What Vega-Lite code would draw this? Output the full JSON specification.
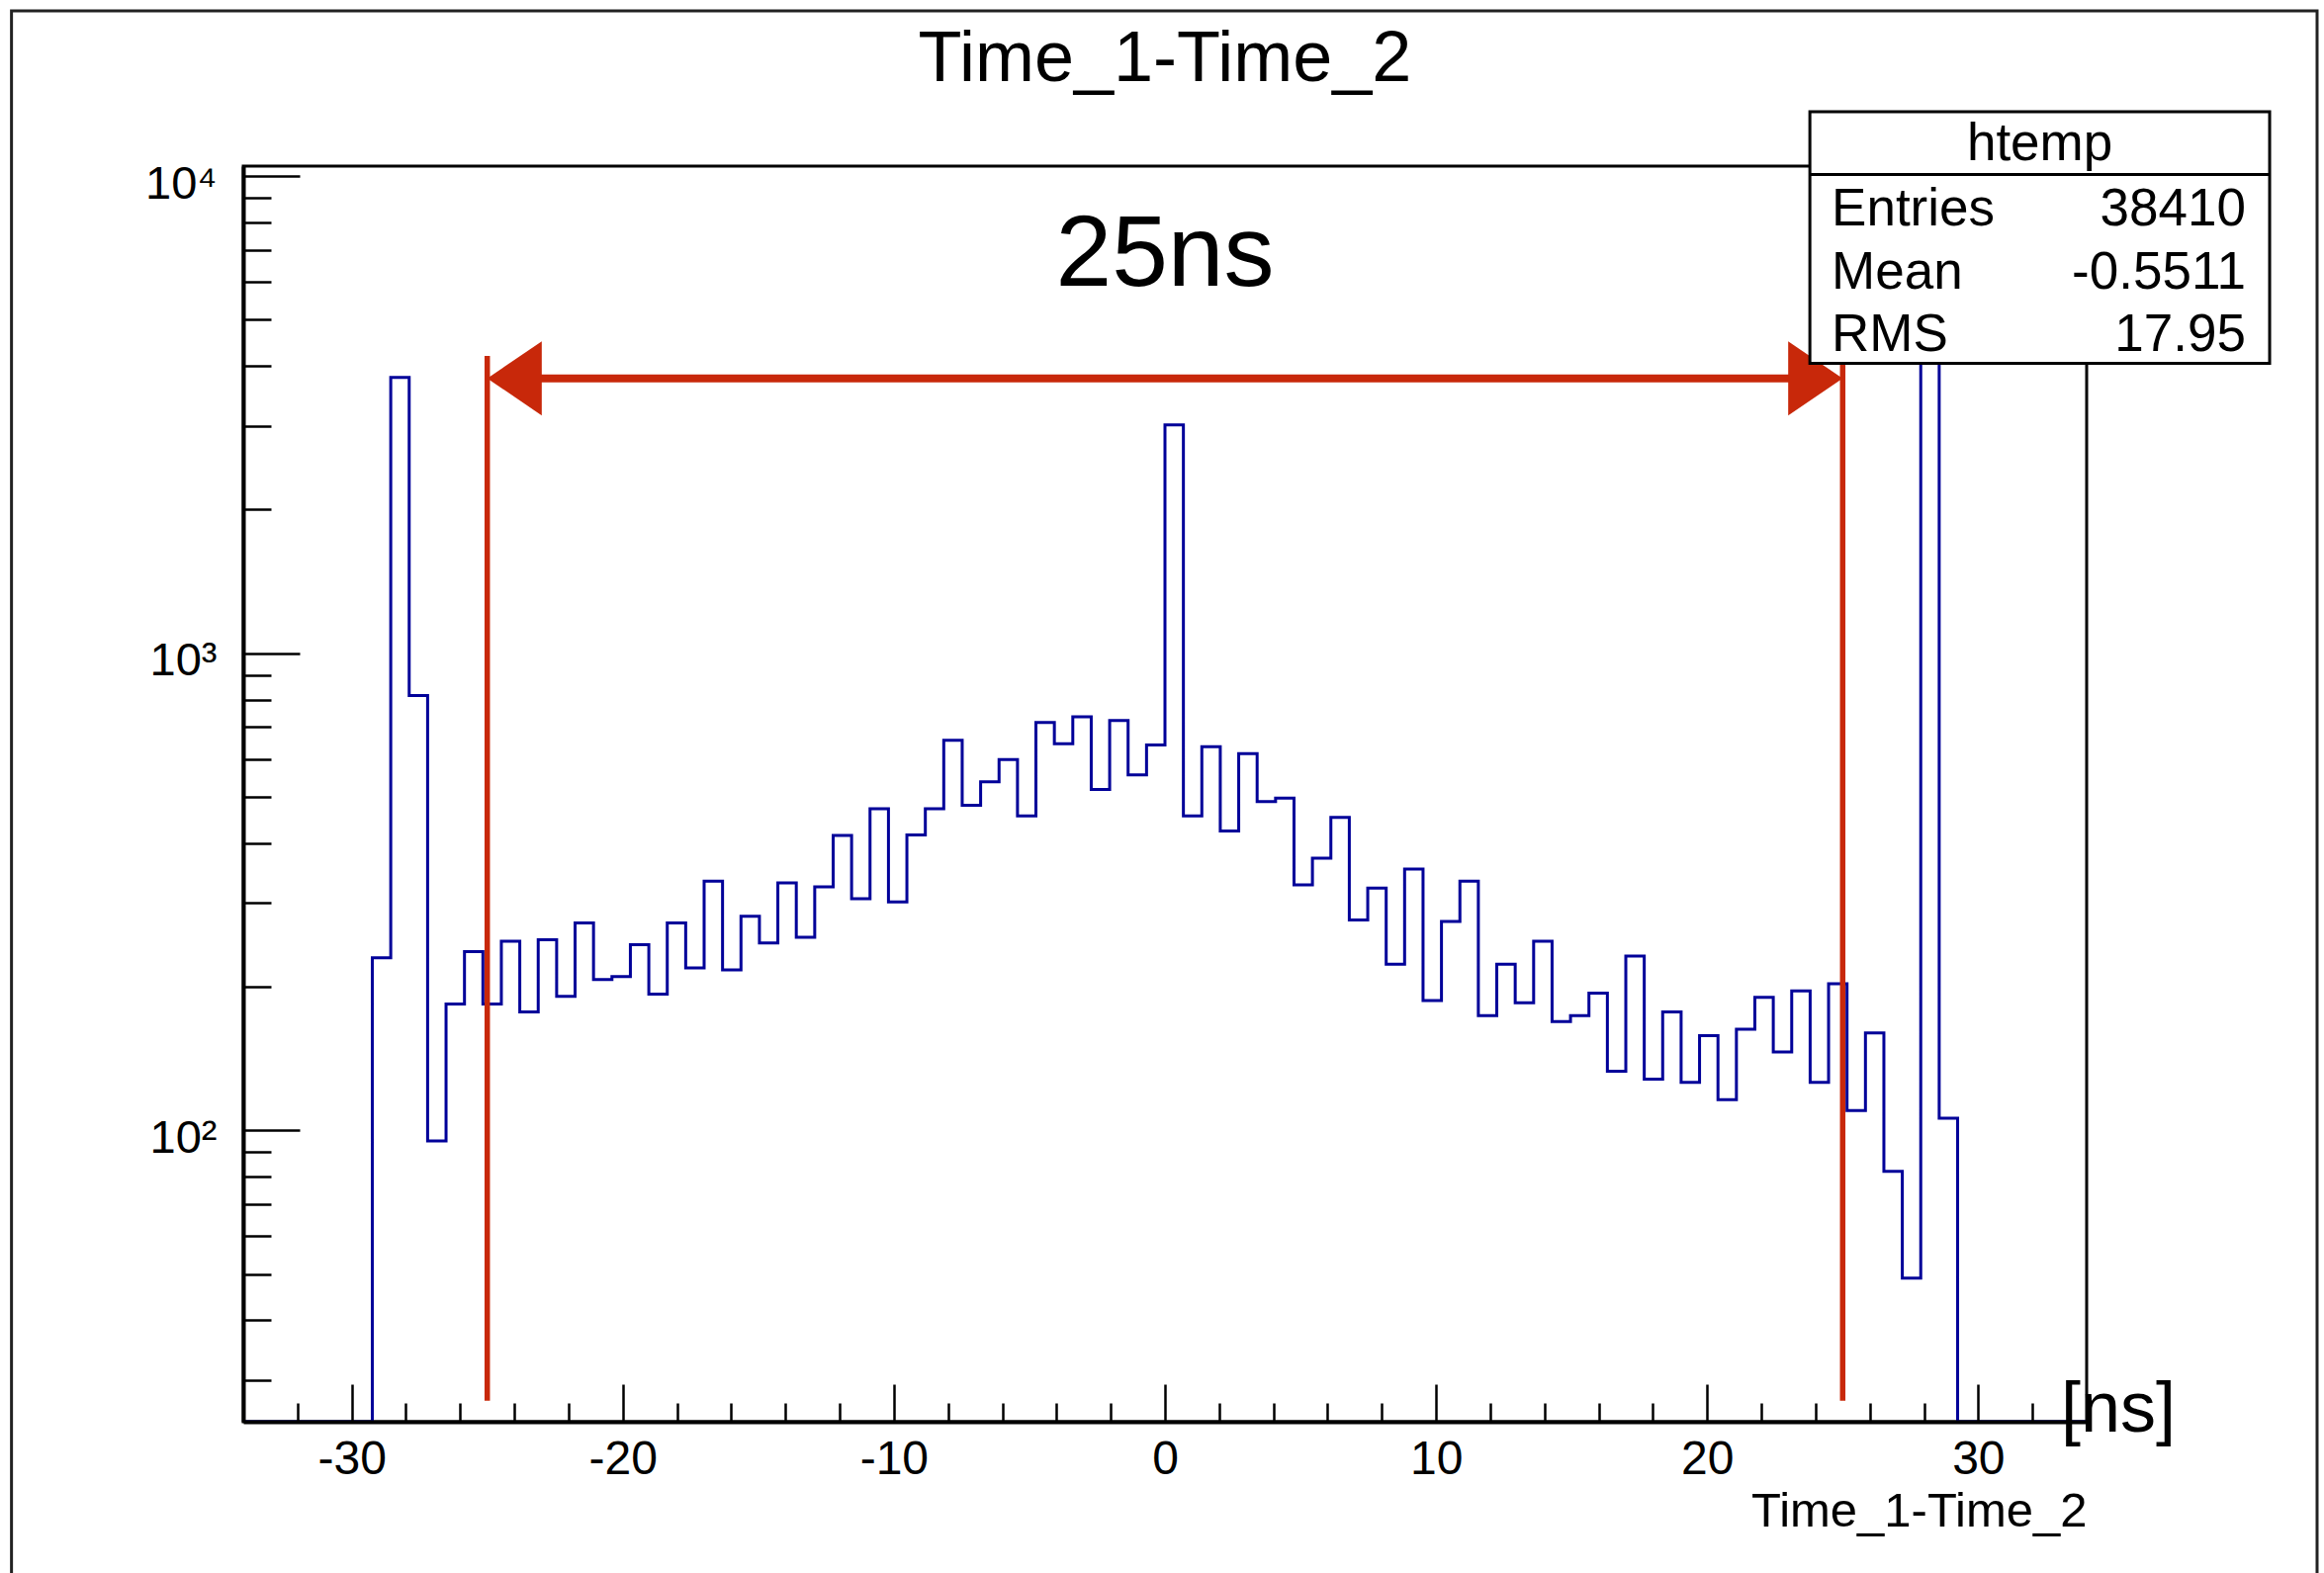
{
  "$schema": "https://vega.github.io/schema/vega-lite/v6.json",
  "width": 1864,
  "height": 1270,
  "autosize": {"type": "none"},
  "padding": {"left": 246, "top": 168, "right": 240, "bottom": 153},
  "background": "white",
  "title": {"text": "Time_1-Time_2", "fontSize": 72, "font": "Liberation Sans", "fontWeight": "normal", "color": "black", "anchor": "middle", "frame": "group", "baseline": "alphabetic", "offset": -144.5},
  "config": {
    "view": {"stroke": "black", "strokeWidth": 3},
    "font": "Liberation Sans",
    "axis": {"grid": false, "domainColor": "black", "domainWidth": 4, "tickColor": "black", "tickWidth": 2.5, "labelColor": "black", "labelFont": "Liberation Sans", "titleFont": "Liberation Sans", "titleColor": "black", "titleFontWeight": "normal", "zindex": 1},
    "text": {"font": "Liberation Sans", "color": "black"}
  },
  "datasets": {
    "hist": [
      {"t": -34, "n": 0}, {"t": -33.32, "n": 0}, {"t": -32.64, "n": 0}, {"t": -31.96, "n": 0}, {"t": -31.28, "n": 0},
      {"t": -30.6, "n": 0}, {"t": -29.92, "n": 0}, {"t": -29.24, "n": 230}, {"t": -28.56, "n": 3785}, {"t": -27.88, "n": 815},
      {"t": -27.2, "n": 95}, {"t": -26.52, "n": 184}, {"t": -25.84, "n": 237}, {"t": -25.16, "n": 184}, {"t": -24.48, "n": 249},
      {"t": -23.8, "n": 177}, {"t": -23.12, "n": 251}, {"t": -22.44, "n": 191}, {"t": -21.76, "n": 272}, {"t": -21.08, "n": 207},
      {"t": -20.4, "n": 210}, {"t": -19.72, "n": 245}, {"t": -19.04, "n": 193}, {"t": -18.36, "n": 272}, {"t": -17.68, "n": 219},
      {"t": -17, "n": 333}, {"t": -16.32, "n": 217}, {"t": -15.64, "n": 281}, {"t": -14.96, "n": 247}, {"t": -14.28, "n": 330},
      {"t": -13.6, "n": 254}, {"t": -12.92, "n": 324}, {"t": -12.24, "n": 415}, {"t": -11.56, "n": 306}, {"t": -10.88, "n": 472},
      {"t": -10.2, "n": 301}, {"t": -9.52, "n": 416}, {"t": -8.84, "n": 472}, {"t": -8.16, "n": 657}, {"t": -7.48, "n": 480},
      {"t": -6.8, "n": 538}, {"t": -6.12, "n": 599}, {"t": -5.44, "n": 456}, {"t": -4.76, "n": 716}, {"t": -4.08, "n": 646},
      {"t": -3.4, "n": 736}, {"t": -2.72, "n": 518}, {"t": -2.04, "n": 723}, {"t": -1.36, "n": 556}, {"t": -0.68, "n": 642},
      {"t": 0, "n": 3010}, {"t": 0.68, "n": 456}, {"t": 1.36, "n": 637}, {"t": 2.04, "n": 424}, {"t": 2.72, "n": 616},
      {"t": 3.4, "n": 489}, {"t": 4.08, "n": 497}, {"t": 4.76, "n": 327}, {"t": 5.44, "n": 372}, {"t": 6.12, "n": 453},
      {"t": 6.8, "n": 276}, {"t": 7.48, "n": 322}, {"t": 8.16, "n": 223}, {"t": 8.84, "n": 353}, {"t": 9.52, "n": 187},
      {"t": 10.2, "n": 274}, {"t": 10.88, "n": 333}, {"t": 11.56, "n": 174}, {"t": 12.24, "n": 223}, {"t": 12.92, "n": 185},
      {"t": 13.6, "n": 249}, {"t": 14.28, "n": 169}, {"t": 14.96, "n": 174}, {"t": 15.64, "n": 194}, {"t": 16.32, "n": 133},
      {"t": 17, "n": 232}, {"t": 17.68, "n": 128}, {"t": 18.36, "n": 177}, {"t": 19.04, "n": 126}, {"t": 19.72, "n": 158},
      {"t": 20.4, "n": 116}, {"t": 21.08, "n": 163}, {"t": 21.76, "n": 190}, {"t": 22.44, "n": 146}, {"t": 23.12, "n": 196},
      {"t": 23.8, "n": 126}, {"t": 24.48, "n": 203}, {"t": 25.16, "n": 110}, {"t": 25.84, "n": 160}, {"t": 26.52, "n": 82},
      {"t": 27.2, "n": 49}, {"t": 27.88, "n": 4800}, {"t": 28.56, "n": 106}, {"t": 29.24, "n": 0}, {"t": 29.92, "n": 0},
      {"t": 30.6, "n": 0}, {"t": 31.28, "n": 0}, {"t": 31.96, "n": 0}, {"t": 32.64, "n": 0}, {"t": 33.32, "n": 0},
      {"t": 34, "n": 0}
    ],
    "window": [{"edge": -25}, {"edge": 25}],
    "note": [{"label": "25ns"}],
    "unit": [{"label": "[ns]"}],
    "box": [{"name": "htemp"}],
    "stats": [{"stat": "Entries", "value": "38410"}, {"stat": "Mean", "value": "-0.5511"}, {"stat": "RMS", "value": "17.95"}],
    "canvas": [{"frame": "canvas"}]
  },
  "layer": [
    {
      "layer": [
        {
          "data": {"name": "hist"},
          "mark": {"type": "line", "interpolate": "step-after", "stroke": "#000099", "strokeWidth": 3, "clip": true},
          "encoding": {
            "x": {"field": "t", "type": "quantitative",
              "scale": {"domain": [-34, 34], "nice": false, "zero": false},
              "axis": {
                "orient": "bottom", "zindex": 1,
                "values": [-30, -20, -10, 0, 10, 20, 30],
                "labelExpr": "'' + datum.value",
                "labelFontSize": 48, "labelBaseline": "alphabetic", "labelPadding": 90, "labelFlush": false, "labelOverlap": false,
                "tickSize": -38,
                "title": "Time_1-Time_2", "titleFontSize": 49, "titleX": 1864, "titleY": 105, "titleAlign": "right", "titleBaseline": "alphabetic", "titleAnchor": "end"
              }
            },
            "y": {"field": "n", "type": "quantitative",
              "scale": {"type": "log", "domain": [24.5, 10500], "nice": false, "clamp": true},
              "axis": {
                "orient": "left", "zindex": 1,
                "values": [100, 1000, 10000],
                "labelExpr": "datum.value === 100 ? '10²' : datum.value === 1000 ? '10³' : '10⁴'",
                "labelFontSize": 47, "labelAlign": "right", "labelBaseline": "middle", "labelPadding": 84, "labelOffset": 8, "labelFlush": false, "labelOverlap": false,
                "tickSize": -57,
                "title": null
              }
            }
          }
        },
        {
          "data": {"name": "window"},
          "mark": {"type": "rule", "color": "#c8280a", "strokeWidth": 5.5},
          "encoding": {
            "x": {"field": "edge", "type": "quantitative", "scale": {"domain": [-34, 34], "nice": false, "zero": false},
              "axis": {"orient": "bottom", "zindex": 1, "values": [-32,-28,-26,-24,-22,-18,-16,-14,-12,-8,-6,-4,-2,2,4,6,8,12,14,16,18,22,24,26,28,32], "labels": false, "domain": false, "tickSize": -19, "title": null}},
            "y": {"datum": 27.1, "scale": {"type": "log", "domain": [24.5, 10500], "nice": false, "clamp": true},
              "axis": {"orient": "left", "zindex": 1, "values": [30,40,50,60,70,80,90,200,300,400,500,600,700,800,900,2000,3000,4000,5000,6000,7000,8000,9000], "labels": false, "domain": false, "tickSize": -28, "title": null}},
            "y2": {"datum": 4200}
          }
        },
        {
          "data": {"name": "note"},
          "mark": {"type": "rule", "color": "#c8280a", "strokeWidth": 8},
          "encoding": {
            "x": {"datum": -24.5, "scale": {"domain": [-34, 34], "nice": false, "zero": false}, "axis": null},
            "x2": {"datum": 24.5},
            "y": {"datum": 3770, "scale": {"type": "log", "domain": [24.5, 10500], "nice": false, "clamp": true}, "axis": null}
          }
        },
        {
          "data": {"name": "window"},
          "mark": {"type": "point", "filled": true, "color": "#c8280a", "opacity": 1, "size": 5625},
          "encoding": {
            "x": {"field": "edge", "type": "quantitative", "scale": {"domain": [-34, 34], "nice": false, "zero": false}, "axis": null},
            "y": {"datum": 3770, "scale": {"type": "log", "domain": [24.5, 10500], "nice": false, "clamp": true}, "axis": null},
            "shape": {"field": "edge", "type": "nominal", "scale": {"domain": [-25, 25], "range": ["M 0 0 L 1.47 -1 L 1.47 1 Z", "M 0 0 L -1.47 -1 L -1.47 1 Z"]}, "legend": null}
          }
        },
        {
          "data": {"name": "note"},
          "mark": {"type": "text", "fontSize": 102, "align": "center", "baseline": "alphabetic", "font": "Liberation Sans", "color": "black"},
          "encoding": {
            "x": {"datum": 0, "scale": {"domain": [-34, 34], "nice": false, "zero": false}, "axis": null},
            "y": {"datum": 5894, "scale": {"type": "log", "domain": [24.5, 10500], "nice": false, "clamp": true}, "axis": null},
            "text": {"field": "label"}
          }
        }
      ],
      "resolve": {"axis": {"x": "independent", "y": "independent"}}
    },
    {
      "layer": [
        {
          "data": {"name": "box"},
          "mark": {"type": "rect", "fill": "white", "stroke": "black", "strokeWidth": 3},
          "encoding": {
            "x": {"datum": 23.79, "scale": {"domain": [-34, 34], "nice": false, "zero": false}, "axis": null},
            "x2": {"datum": 40.75},
            "y": {"datum": 4053, "scale": {"type": "log", "domain": [24.5, 10500], "nice": false}, "axis": null},
            "y2": {"datum": 13650}
          }
        },
        {
          "data": {"name": "box"},
          "mark": {"type": "rule", "color": "black", "strokeWidth": 3},
          "encoding": {
            "x": {"datum": 23.79, "axis": null},
            "x2": {"datum": 40.75},
            "y": {"datum": 10083, "scale": {"type": "log", "domain": [24.5, 10500], "nice": false}, "axis": null}
          }
        },
        {
          "data": {"name": "box"},
          "mark": {"type": "text", "fontSize": 53, "align": "center", "baseline": "alphabetic"},
          "encoding": {
            "x": {"datum": 32.27, "axis": null},
            "y": {"datum": 10805, "scale": {"type": "log", "domain": [24.5, 10500], "nice": false}, "axis": null},
            "text": {"field": "name"}
          }
        },
        {
          "data": {"name": "stats"},
          "transform": [{"filter": "datum.stat === 'Entries'"}],
          "layer": [
            {"mark": {"type": "text", "fontSize": 53, "align": "left", "baseline": "alphabetic"},
             "encoding": {"x": {"datum": 24.59, "axis": null}, "y": {"datum": 7874, "scale": {"type": "log", "domain": [24.5, 10500], "nice": false}, "axis": null}, "text": {"field": "stat"}}},
            {"mark": {"type": "text", "fontSize": 53, "align": "right", "baseline": "alphabetic"},
             "encoding": {"x": {"datum": 39.87, "axis": null}, "y": {"datum": 7874, "scale": {"type": "log", "domain": [24.5, 10500], "nice": false}, "axis": null}, "text": {"field": "value"}}}
          ]
        },
        {
          "data": {"name": "stats"},
          "transform": [{"filter": "datum.stat === 'Mean'"}],
          "layer": [
            {"mark": {"type": "text", "fontSize": 53, "align": "left", "baseline": "alphabetic"},
             "encoding": {"x": {"datum": 24.59, "axis": null}, "y": {"datum": 5819, "scale": {"type": "log", "domain": [24.5, 10500], "nice": false}, "axis": null}, "text": {"field": "stat"}}},
            {"mark": {"type": "text", "fontSize": 53, "align": "right", "baseline": "alphabetic"},
             "encoding": {"x": {"datum": 39.87, "axis": null}, "y": {"datum": 5819, "scale": {"type": "log", "domain": [24.5, 10500], "nice": false}, "axis": null}, "text": {"field": "value"}}}
          ]
        },
        {
          "data": {"name": "stats"},
          "transform": [{"filter": "datum.stat === 'RMS'"}],
          "layer": [
            {"mark": {"type": "text", "fontSize": 53, "align": "left", "baseline": "alphabetic"},
             "encoding": {"x": {"datum": 24.59, "axis": null}, "y": {"datum": 4302, "scale": {"type": "log", "domain": [24.5, 10500], "nice": false}, "axis": null}, "text": {"field": "stat"}}},
            {"mark": {"type": "text", "fontSize": 53, "align": "right", "baseline": "alphabetic"},
             "encoding": {"x": {"datum": 39.87, "axis": null}, "y": {"datum": 4302, "scale": {"type": "log", "domain": [24.5, 10500], "nice": false}, "axis": null}, "text": {"field": "value"}}}
          ]
        },
        {
          "data": {"name": "unit"},
          "mark": {"type": "text", "fontSize": 72, "align": "left", "baseline": "alphabetic"},
          "encoding": {
            "x": {"datum": 33.05, "axis": null},
            "y": {"datum": 23.36, "scale": {"type": "log", "domain": [24.5, 10500], "nice": false}, "axis": null},
            "text": {"field": "label"}
          }
        },
        {
          "data": {"name": "canvas"},
          "mark": {"type": "rect", "filled": false, "stroke": "#222222", "strokeWidth": 3, "fillOpacity": 0},
          "encoding": {
            "x": {"datum": -42.55, "axis": null},
            "x2": {"datum": 42.5},
            "y": {"datum": 22220, "scale": {"type": "log", "domain": [24.5, 10500], "nice": false}, "axis": null},
            "y2": {"datum": 10.3}
          }
        }
      ]
    }
  ],
  "resolve": {"scale": {"y": "independent"}, "axis": {"x": "independent", "y": "independent"}}
}
